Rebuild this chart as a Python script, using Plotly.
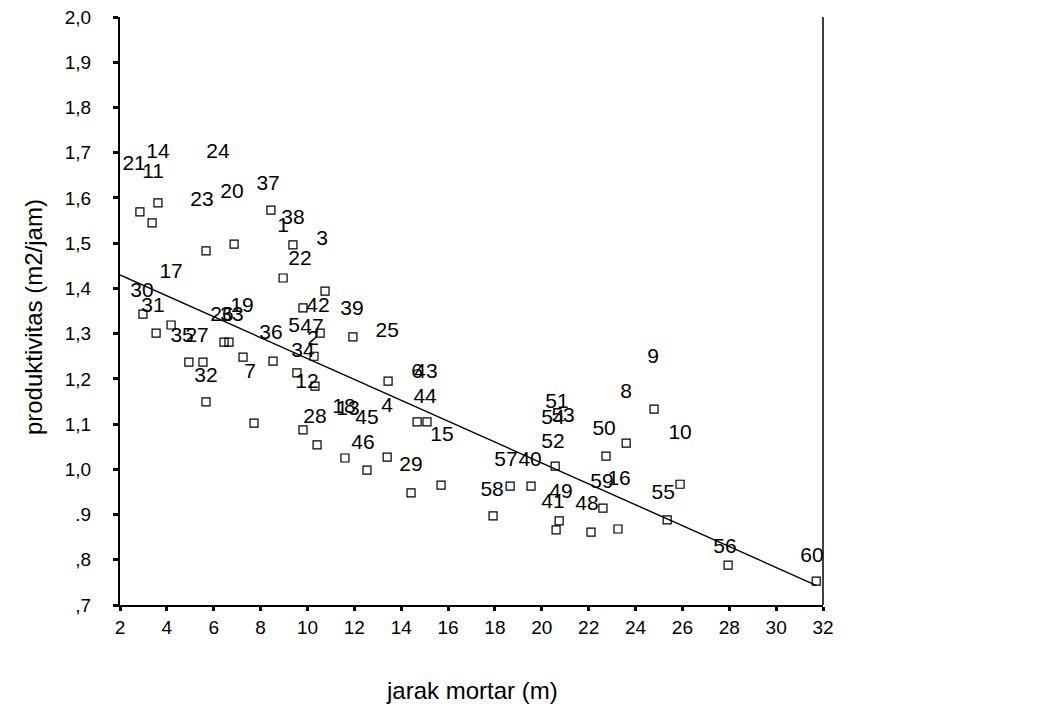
import plotly.graph_objects as go

# ---- case values (jarak mortar, produktivitas) ----
jarak = [2.85, 3.62, 3.37, 5.67, 6.87, 8.44, 9.38, 8.96, 10.75, 9.81,
         2.98, 4.18, 3.54, 6.44, 6.65, 7.25, 8.53, 4.94, 5.54, 5.67,
         7.72, 9.81, 10.41, 11.60, 11.94, 10.54, 10.28, 9.55, 10.32, 13.44,
         14.68, 15.10, 13.40, 12.54, 15.70, 14.42, 17.92, 18.65, 19.54, 20.57,
         20.74, 20.61, 22.10, 23.25, 22.61, 24.79, 23.60, 22.74, 25.90, 25.35,
         27.95, 31.71]
produktivitas = [1.569, 1.589, 1.545, 1.483, 1.498, 1.573, 1.496, 1.423, 1.394, 1.357,
                 1.343, 1.319, 1.301, 1.281, 1.281, 1.248, 1.239, 1.237, 1.237, 1.149,
                 1.102, 1.087, 1.054, 1.025, 1.293, 1.301, 1.250, 1.213, 1.184, 1.195,
                 1.105, 1.105, 1.027, 0.998, 0.965, 0.948, 0.897, 0.963, 0.963, 1.007,
                 0.886, 0.866, 0.861, 0.868, 0.914, 1.133, 1.058, 1.029, 0.967, 0.888,
                 0.788, 0.753]

# ---- case labels and where they are printed (data units) ----
case_labels = ["21", "14", "11", "24", "23", "20", "37", "38", "1", "3",
               "22", "17", "30", "31", "19", "26", "33", "35", "27", "36",
               "5", "47", "2", "34", "42", "39", "25", "32", "7", "12",
               "28", "18", "13", "6", "43", "44", "4", "45", "15", "46",
               "29", "57", "40", "58", "51", "54", "53", "52", "49", "41",
               "48", "9", "8", "50", "10", "59", "16", "55", "56", "60"]
label_x = [2.60, 3.62, 3.41, 6.18, 5.50, 6.78, 8.32, 9.38, 8.96, 10.62,
           9.68, 4.18, 2.94, 3.41, 7.21, 6.35, 6.78, 4.65, 5.29, 8.44,
           9.43, 10.19, 10.24, 9.81, 10.45, 11.90, 13.40, 5.67, 7.55, 9.98,
           10.32, 11.56, 11.73, 14.68, 15.06, 15.02, 13.40, 12.54, 15.74, 12.37,
           14.42, 18.47, 19.50, 17.88, 20.65, 20.48, 20.91, 20.48, 20.82, 20.48,
           21.93, 24.75, 23.60, 22.66, 25.90, 22.57, 23.30, 25.18, 27.82, 31.53]
label_y = [1.673, 1.699, 1.655, 1.699, 1.593, 1.611, 1.629, 1.553, 1.536, 1.507,
           1.463, 1.434, 1.392, 1.359, 1.359, 1.339, 1.339, 1.293, 1.293, 1.299,
           1.315, 1.312, 1.286, 1.259, 1.359, 1.352, 1.304, 1.204, 1.213, 1.191,
           1.113, 1.136, 1.131, 1.213, 1.213, 1.158, 1.138, 1.111, 1.074, 1.056,
           1.007, 1.018, 1.018, 0.952, 1.147, 1.111, 1.116, 1.058, 0.948, 0.925,
           0.921, 1.246, 1.169, 1.087, 1.078, 0.970, 0.976, 0.945, 0.826, 0.806]

# ---- linear fit as printed ----
fit_intercept = 1.476
fit_slope = -0.0231
fit_x_start = 2.0
rsq_text = "Rsq = 0,6513"

# ---- axis ticks ----
x_ticks = list(range(2, 33, 2))
y_tickvals = [0.7, 0.8, 0.9, 1.0, 1.1, 1.2, 1.3, 1.4, 1.5, 1.6, 1.7, 1.8, 1.9, 2.0]
y_ticktext = [",7", ",8", ".9", "1,0", "1,1", "1,2", "1,3", "1,4", "1,5", "1,6",
              "1,7", "1,8", "1,9", "2,0"]

FONT = "Liberation Sans, Arial, sans-serif"

fit_x = [fit_x_start, max(jarak)]
fit_y = [fit_intercept + fit_slope * v for v in fit_x]

fig = go.Figure()
fig.add_trace(go.Scatter(x=fit_x, y=fit_y, mode="lines",
                         line=dict(color="black", width=1.4),
                         hoverinfo="skip", showlegend=False))
fig.add_trace(go.Scatter(x=jarak, y=produktivitas, mode="markers",
                         marker=dict(symbol="square-open", size=8,
                                     color="black", line=dict(width=1.2)),
                         showlegend=False))
fig.add_trace(go.Scatter(x=label_x, y=label_y, mode="text", text=case_labels,
                         textposition="middle center",
                         textfont=dict(family=FONT, size=21, color="black"),
                         cliponaxis=False, showlegend=False))

fig.add_annotation(x=1.095, xref="paper", y=0.693, yref="y", text=rsq_text,
                   showarrow=False, xanchor="left", yanchor="middle",
                   font=dict(family=FONT, size=20, color="black"))
fig.add_annotation(x=0.5, xref="paper", y=-0.145, yref="paper",
                   text="jarak mortar (m)", showarrow=False,
                   xanchor="center", yanchor="middle",
                   font=dict(family=FONT, size=24, color="black"))
fig.add_annotation(x=-0.122, xref="paper", y=0.49, yref="paper",
                   text="produktivitas (m2/jam)", showarrow=False, textangle=-90,
                   xanchor="center", yanchor="middle",
                   font=dict(family=FONT, size=24, color="black"))

# right frame line
fig.add_shape(type="line", xref="paper", yref="paper", x0=1, x1=1, y0=0, y1=1,
              line=dict(color="black", width=1.5))

fig.update_xaxes(range=[2, 32], tickvals=x_ticks, ticktext=[str(t) for t in x_ticks],
                 ticks="outside", ticklen=4, tickwidth=3, tickcolor="black",
                 showline=True, linewidth=2, linecolor="black",
                 showgrid=False, zeroline=False, ticklabeloverflow="allow",
                 automargin=False,
                 tickfont=dict(family=FONT, size=19, color="black"))
fig.update_yaxes(range=[0.7, 2.0], tickvals=y_tickvals, ticktext=y_ticktext,
                 ticks="outside", ticklen=5, tickwidth=3, tickcolor="black",
                 showline=True, linewidth=2, linecolor="black",
                 showgrid=False, zeroline=False, ticklabelstandoff=18,
                 ticklabeloverflow="allow", automargin=False,
                 tickfont=dict(family=FONT, size=19, color="black"))

fig.update_layout(width=1038, height=716, autosize=False,
                  margin=dict(l=112, r=223, t=9, b=119),
                  plot_bgcolor="white", paper_bgcolor="white")

fig.write_html("out.html")
